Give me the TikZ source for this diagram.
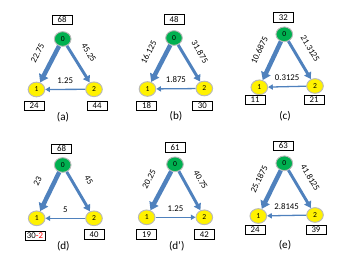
\documentclass[tikz,border=0pt]{standalone}
\usepackage{fontspec}
\setmainfont{Carlito}
\usetikzlibrary{shapes.geometric,arrows.meta}
\definecolor{flowblue}{HTML}{4F81BD}
\definecolor{srcgreen}{HTML}{00B050}
\begin{document}
\begin{tikzpicture}[x=0.03cm,y=-0.03cm,
  src/.style={draw=gray!55,line width=0.8pt,fill=srcgreen,ellipse,minimum width=0.5cm,minimum height=0.44cm,inner sep=0pt,font=\fontsize{6.5}{7}\selectfont},
  snk/.style={src,fill=yellow},
  valbox/.style={draw,line width=0.6pt,minimum width=0.6cm,minimum height=0.29cm,inner sep=1pt,font=\fontsize{7.5}{8}\selectfont},
  sublbl/.style={font=\fontsize{9.5}{10}\selectfont},
  bigflow/.style={draw=flowblue,line width=3.8pt,-{Triangle[length=6.5pt,width=8.5pt]}},
  midflow/.style={draw=flowblue,line width=2.5pt,-{Triangle[length=5.5pt,width=6.5pt]}},
  thinflow/.style={draw=flowblue,line width=1.1pt,-{Triangle[length=4pt,width=4.5pt]}},
  flowlbl/.style={sloped,above=8pt,pos=0.4,font=\fontsize{7.5}{8}\selectfont,inner sep=1pt},
  flatlbl/.style={above=3.5pt,font=\fontsize{7.5}{8}\selectfont,inner sep=1pt}]
\useasboundingbox (0,0) rectangle (350,263);

% (a)
\node (a0) [src] at (62.7,39) {0};
\node (a1) [snk] at (36.5,89.5) {1};
\node (a2) [snk] at (94,89.3) {2};
\node (a0v) [valbox] at (62,20) {68};
\node (a1v) [valbox] at (34,106) {24};
\node (a2v) [valbox] at (97,106) {44};
\node (acap) [sublbl] at (63,117) {(a)};
\draw[bigflow] (a0) -- node[flowlbl] {22.75} (a1);
\draw[midflow] (a0) -- node[flowlbl] {45.25} (a2);
\draw[thinflow] (a2) -- node[flatlbl] {1.25} (a1);

% (b)
\node (b0) [src] at (174,38) {0};
\node (b1) [snk] at (147.5,89) {1};
\node (b2) [snk] at (204.3,88.5) {2};
\node (b0v) [valbox] at (174,19.3) {48};
\node (b1v) [valbox] at (146.7,106) {18};
\node (b2v) [valbox] at (202.3,106) {30};
\node (bcap) [sublbl] at (176,116.7) {(b)};
\draw[bigflow] (b0) -- node[flowlbl] {16.125} (b1);
\draw[midflow] (b0) -- node[flowlbl] {31.875} (b2);
\draw[thinflow] (b2) -- node[flatlbl] {1.875} (b1);

% (c)
\node (c0) [src] at (284.3,34.3) {0};
\node (c1) [snk] at (259.3,87.3) {1};
\node (c2) [snk] at (315,86) {2};
\node (c0v) [valbox] at (283.3,17.3) {32};
\node (c1v) [valbox] at (255,100) {11};
\node (c2v) [valbox] at (314,100) {21};
\node (ccap) [sublbl] at (285,116) {(c)};
\draw[bigflow] (c0) -- node[flowlbl] {10.6875} (c1);
\draw[midflow] (c0) -- node[flowlbl] {21.3125} (c2);
\draw[thinflow] (c2) -- node[flatlbl] {0.3125} (c1);

% (d)
\node (d0) [src] at (62.7,165) {0};
\node (d1) [snk] at (36.7,218.3) {1};
\node (d2) [snk] at (94,218.3) {2};
\node (d0v) [valbox] at (61.7,149) {68};
\node (d1v) [valbox] at (35,236) {30\textcolor{red}{-2}};
\node (d2v) [valbox] at (94,234.3) {40};
\node (dcap) [sublbl] at (63.3,246) {(d)};
\draw[bigflow] (d0) -- node[flowlbl] {23} (d1);
\draw[midflow] (d0) -- node[flowlbl] {45} (d2);
\draw[thinflow] (d2) -- node[flatlbl] {5} (d1);

% (d')
\node (p0) [src] at (175,164.3) {0};
\node (p1) [snk] at (146.7,217.3) {1};
\node (p2) [snk] at (204.3,217.3) {2};
\node (p0v) [valbox] at (175,147.3) {61};
\node (p1v) [valbox] at (146.7,234.3) {19};
\node (p2v) [valbox] at (204.3,234.3) {42};
\node (pcap) [sublbl] at (176.7,246) {(d’)};
\draw[bigflow] (p0) -- node[flowlbl] {20.25} (p1);
\draw[midflow] (p0) -- node[flowlbl] {40.75} (p2);
\draw[thinflow] (p1) -- node[flatlbl] {1.25} (p2);

% (e)
\node (e0) [src] at (284.3,163.3) {0};
\node (e1) [snk] at (258.3,216) {1};
\node (e2) [snk] at (315,215) {2};
\node (e0v) [valbox] at (283.3,146) {63};
\node (e1v) [valbox] at (255,230) {24};
\node (e2v) [valbox] at (316,230) {39};
\node (ecap) [sublbl] at (285,245) {(e)};
\draw[bigflow] (e0) -- node[flowlbl] {25.1875} (e1);
\draw[midflow] (e0) -- node[flowlbl] {41.8125} (e2);
\draw[thinflow] (e2) -- node[flatlbl] {2.8145} (e1);
\end{tikzpicture}
\end{document}
